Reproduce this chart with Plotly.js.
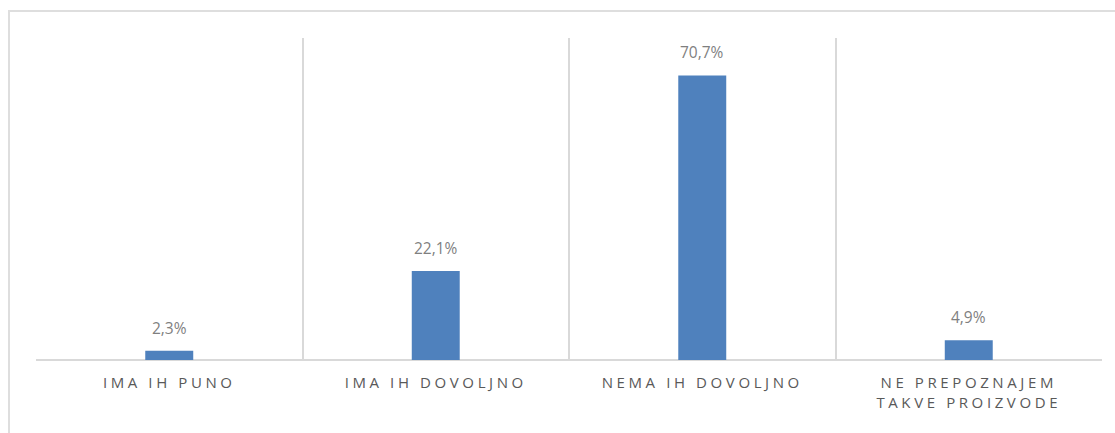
<!DOCTYPE html>
<html>
<head>
<meta charset="utf-8">
<script src="https://cdn.plot.ly/plotly-3.0.1.min.js"></script>
<style>
  html, body { margin: 0; padding: 0; background: #fff; }
  #frame { position: absolute; left: 8px; top: 10px; width: 1120px; height: 440px; border: 2px solid #dedede; box-sizing: border-box; pointer-events: none; z-index: 5; }
  #chart { width: 1115px; height: 433px; }
  .xtick text { letter-spacing: 3.6px; }
</style>
</head>
<body>
<div id="frame"></div>
<div id="chart"></div>
<script>
const categories = ["IMA IH PUNO", "IMA IH DOVOLJNO", "NEMA IH DOVOLJNO", "NE PREPOZNAJEM<br>TAKVE PROIZVODE"];
const values = [2.3, 22.1, 70.7, 4.9];
const valueLabels = ["2,3%", "22,1%", "70,7%", "4,9%"];

const trace = {
  type: "bar",
  x: categories,
  y: values,
  marker: { color: "#4F81BD" },
  hoverinfo: "none"
};

const annotations = categories.map((c, i) => ({
  x: c, y: values[i], text: valueLabels[i],
  xref: "x", yref: "y", showarrow: false,
  yanchor: "middle", yshift: 23,
  font: { family: "Open Sans, sans-serif", size: 15.5, color: "#7f7f7f" }
}));

const layout = {
  width: 1115, height: 433,
  margin: { l: 36, r: 13, t: 38, b: 73 },
  paper_bgcolor: "#ffffff",
  plot_bgcolor: "#ffffff",
  bargap: 0.82,
  showlegend: false,
  xaxis: {
    type: "category",
    tickson: "boundaries",
    showgrid: true,
    gridcolor: "#d9d9d9",
    gridwidth: 2,
    showline: false,
    ticks: "",
    ticklabelstandoff: 12,
    tickfont: { family: "Open Sans, sans-serif", size: 15, color: "#595959" },
    fixedrange: true
  },
  yaxis: {
    range: [0, 80],
    showgrid: false,
    zeroline: true,
    zerolinecolor: "#d9d9d9",
    zerolinewidth: 2,
    showticklabels: false,
    ticks: "",
    fixedrange: true
  },
  annotations: annotations
};

Plotly.newPlot("chart", [trace], layout, { displayModeBar: false, staticPlot: true });
</script>
</body>
</html>
